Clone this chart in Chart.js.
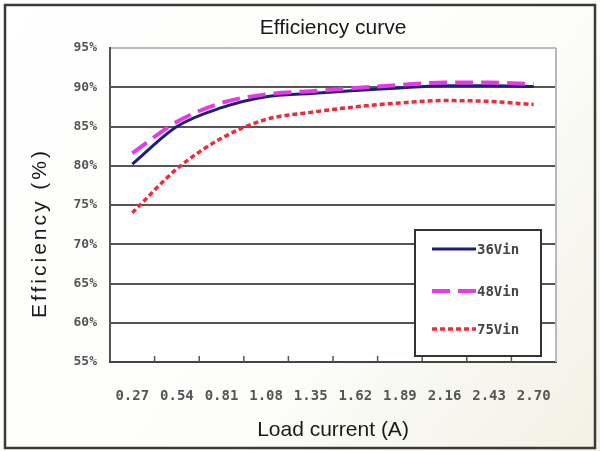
<!DOCTYPE html>
<html>
<head>
<meta charset="utf-8">
<script src="https://cdn.jsdelivr.net/npm/chart.js@4/dist/chart.umd.min.js"></script>
<style>
  html, body { margin: 0; padding: 0; background: #ffffff; }
  #wrap { position: relative; width: 600px; height: 451px; }
</style>
</head>
<body>
<div id="wrap"><canvas id="myChart" width="600" height="451"></canvas></div>
<script>
// values
const loadCurrent = ['0.27', '0.54', '0.81', '1.08', '1.35', '1.62', '1.89', '2.16', '2.43', '2.70'];
const eff36Vin = [80.2, 85.0, 87.4, 88.8, 89.2, 89.6, 89.9, 90.2, 90.2, 90.1];
const eff48Vin = [81.6, 85.6, 88.0, 89.1, 89.5, 89.9, 90.3, 90.6, 90.6, 90.4];
const eff75Vin = [74.0, 79.6, 83.5, 85.9, 86.8, 87.5, 88.0, 88.3, 88.2, 87.8];
const seriesNames = ['36Vin', '48Vin', '75Vin'];
const yTicks = [55, 60, 65, 70, 75, 80, 85, 90, 95];

const monoFont = '"DejaVu Sans Mono", "Liberation Mono", monospace';
const sansFont = '"Liberation Sans", Arial, sans-serif';

// frame, titles, inner tick marks and the legend box
const decorPlugin = {
    id: 'decor',
    beforeDraw(chart) {
        const ctx = chart.ctx;
        ctx.save();
        const g = ctx.createLinearGradient(0, 0, 600, 451);
        g.addColorStop(0, '#ffffff');
        g.addColorStop(0.6, '#fdfdfb');
        g.addColorStop(1, '#f1f1e4');
        ctx.fillStyle = g;
        ctx.fillRect(0, 0, 600, 451);
        ctx.fillStyle = '#ffffff';
        const a = chart.chartArea;
        ctx.fillRect(a.left, a.top, a.right - a.left, a.bottom - a.top);
        ctx.restore();
    },
    afterDraw(chart) {
        const ctx = chart.ctx;
        const a = chart.chartArea;
        const x = chart.scales.x;
        ctx.save();

        // plot area right edge (light)
        ctx.strokeStyle = '#b8b8b8';
        ctx.lineWidth = 2;
        ctx.beginPath();
        ctx.moveTo(a.right, a.top);
        ctx.lineTo(a.right, a.bottom);
        ctx.stroke();

        // small upward tick marks between categories
        ctx.strokeStyle = '#555';
        ctx.lineWidth = 1.5;
        for (let i = 0; i < loadCurrent.length - 1; i++) {
            const px = (x.getPixelForValue(i) + x.getPixelForValue(i + 1)) / 2;
            ctx.beginPath();
            ctx.moveTo(px, a.bottom);
            ctx.lineTo(px, a.bottom - 6);
            ctx.stroke();
        }

        // outer frame
        ctx.strokeStyle = '#3a3a3a';
        ctx.lineWidth = 2.5;
        ctx.strokeRect(5, 5, 590, 443);

        // chart title
        ctx.fillStyle = '#1a1a1a';
        ctx.font = '21px ' + sansFont;
        ctx.textAlign = 'center';
        ctx.textBaseline = 'middle';
        ctx.fillText('Efficiency curve', (a.left + a.right) / 2, 28);

        // y axis title
        ctx.save();
        ctx.translate(40, 233);
        ctx.rotate(-Math.PI / 2);
        ctx.letterSpacing = '3px';
        ctx.font = '21px ' + sansFont;
        ctx.fillText('Efficiency (%)', 0, 0);
        ctx.restore();

        // legend box
        const lx = 415, ly = 230, lw = 126, lh = 126;
        ctx.fillStyle = '#ffffff';
        ctx.fillRect(lx, ly, lw, lh);
        ctx.strokeStyle = '#333';
        ctx.lineWidth = 2;
        ctx.strokeRect(lx, ly, lw, lh);
        const rows = [249, 291, 329];
        chart.data.datasets.forEach((ds, i) => {
            ctx.save();
            ctx.strokeStyle = ds.borderColor;
            ctx.lineWidth = ds.borderWidth;
            ctx.setLineDash(ds.borderDash || []);
            ctx.beginPath();
            ctx.moveTo(432, rows[i]);
            ctx.lineTo(476, rows[i]);
            ctx.stroke();
            ctx.restore();
            ctx.fillStyle = '#444';
            ctx.font = 'bold 14px ' + monoFont;
            ctx.textAlign = 'left';
            ctx.textBaseline = 'middle';
            ctx.fillText(ds.label, 477, rows[i] + 1);
        });

        ctx.restore();
    }
};

const ctx = document.getElementById('myChart').getContext('2d');
new Chart(ctx, {
    type: 'line',
    data: {
        labels: loadCurrent,
        datasets: [
            {
                label: seriesNames[0],
                data: eff36Vin,
                borderColor: '#1e1e7e',
                borderWidth: 3,
                order: 1
            },
            {
                label: seriesNames[1],
                data: eff48Vin,
                borderColor: '#e63ae6',
                borderWidth: 4,
                borderDash: [18, 8],
                order: 0
            },
            {
                label: seriesNames[2],
                data: eff75Vin,
                borderColor: '#ee2b3b',
                borderWidth: 3.5,
                borderDash: [5, 3],
                order: 2
            }
        ]
    },
    options: {
        responsive: false,
        animation: false,
        cubicInterpolationMode: 'monotone',
        elements: { point: { radius: 0 } },
        layout: { padding: { top: 48, right: 44, bottom: 0, left: 0 } },
        plugins: {
            legend: { display: false },
            title: { display: false },
            tooltip: { enabled: false }
        },
        scales: {
            y: {
                min: 55,
                max: 95,
                afterFit: (s) => { s.width = 110; },
                afterBuildTicks: (s) => { s.ticks = yTicks.map(v => ({ value: v })); },
                ticks: {
                    padding: 13,
                    color: '#555',
                    font: { family: monoFont, size: 13, weight: 'bold' },
                    callback: (v) => v + '%'
                },
                grid: {
                    drawTicks: false,
                    color: (c) => c.tick && c.tick.value === 95 ? '#bdbdbd' : '#555',
                    lineWidth: 2
                },
                border: { color: '#555', width: 2 }
            },
            x: {
                offset: true,
                afterFit: (s) => { s.height = 89; },
                ticks: {
                    padding: 26,
                    color: '#555',
                    maxRotation: 0,
                    autoSkip: false,
                    font: { family: monoFont, size: 14, weight: 'bold' }
                },
                grid: { drawOnChartArea: false, drawTicks: false },
                border: { color: '#444', width: 2 },
                title: {
                    display: true,
                    text: 'Load current (A)',
                    color: '#1a1a1a',
                    font: { family: sansFont, size: 21 },
                    padding: { top: 0, bottom: 8 }
                }
            }
        }
    },
    plugins: [decorPlugin]
});
</script>
</body>
</html>
